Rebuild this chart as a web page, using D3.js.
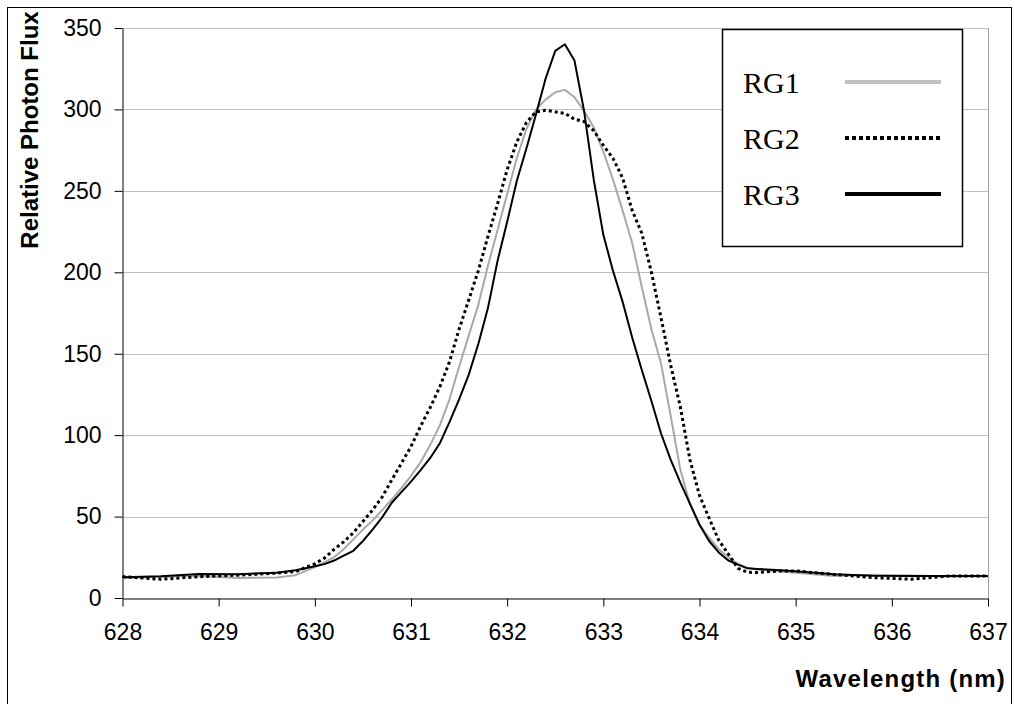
<!DOCTYPE html>
<html>
<head>
<meta charset="utf-8">
<script src="https://cdn.jsdelivr.net/npm/d3@7"></script>
<style>
  html, body { margin: 0; padding: 0; background: #ffffff; }
  #main-frame { width: 1015px; height: 704px; overflow: hidden; }
</style>
</head>
<body>
<div id="main-frame"></div>
<script>
const wavelength = [
  628.0, 628.4, 628.8, 629.2, 629.6, 629.8, 630.0, 630.1, 630.2, 630.3,
  630.4, 630.5, 630.6, 630.7, 630.8, 630.9, 631.0, 631.1, 631.2, 631.3,
  631.4, 631.5, 631.6, 631.7, 631.8, 631.9, 632.0, 632.1, 632.2, 632.3,
  632.4, 632.5, 632.6, 632.7, 632.8, 632.9, 633.0, 633.1, 633.2, 633.3,
  633.4, 633.5, 633.6, 633.7, 633.8, 633.9, 634.0, 634.1, 634.2, 634.3,
  634.4, 634.5, 634.6, 634.8, 635.0, 635.4, 635.8, 636.2, 636.6, 637.0
];

const rg1 = [
  12.1, 13.0, 13.5, 12.3, 12.6, 14.0, 19.0, 22.0, 25.0, 30.0,
  36.0, 42.0, 47.5, 54.0, 60.5, 67.5, 75.0, 83.5, 94.0, 106.0,
  122.0, 142.0, 161.0, 180.0, 204.0, 226.0, 248.0, 270.0, 288.0, 300.0,
  306.0, 310.5, 312.0, 307.5, 299.0, 289.0, 274.0, 257.0, 238.0, 218.0,
  191.0, 165.0, 144.0, 112.0, 79.0, 58.0, 45.0, 37.0, 30.0, 25.0,
  21.0, 18.5, 17.5, 16.5, 15.5, 13.5, 14.2, 13.8, 13.2, 13.3
];

const rg2 = [
  13.1, 11.5, 13.1, 14.0, 15.3, 16.2, 21.0, 24.5, 29.8, 34.5,
  40.0, 47.0, 54.0, 62.0, 72.5, 82.7, 93.0, 105.5, 117.0, 129.7,
  145.0, 165.0, 183.0, 201.0, 222.0, 242.0, 263.0, 280.0, 292.0, 298.5,
  299.5, 298.5, 297.6, 294.0, 292.5, 287.0, 278.0, 270.0, 258.0, 238.0,
  224.0, 200.0, 172.0, 143.0, 117.5, 85.0, 63.0, 49.0, 35.5, 27.0,
  18.2, 15.8, 15.6, 16.5, 16.6, 14.5, 12.5, 11.5, 13.5, 13.5
];

const rg3 = [
  12.7, 13.3, 14.7, 14.6, 15.5, 17.0, 19.5, 20.8, 23.0, 26.0,
  29.0, 35.0, 42.0, 49.5, 58.5, 65.0, 71.5, 78.5, 86.0, 95.0,
  108.0, 122.0, 137.0, 156.0, 178.0, 207.0, 231.0, 256.0, 276.0, 297.0,
  319.0, 336.0, 340.0, 330.0, 299.0, 257.0, 223.0, 201.0, 182.0, 160.0,
  140.0, 121.0, 101.0, 85.0, 71.0, 58.0, 45.0, 35.0, 28.0, 23.0,
  20.5, 18.2, 17.8, 17.2, 16.5, 14.6, 13.6, 13.5, 13.5, 13.5
];

const seriesNames = ["RG1", "RG2", "RG3"];
const xTicks = [628, 629, 630, 631, 632, 633, 634, 635, 636, 637];
const yTicks = [0, 50, 100, 150, 200, 250, 300, 350];

const styles = {
  RG1: { stroke: "#a8a8a8", legendStroke: "#c0c0c0", width: 2, dash: null, legendDash: null },
  RG2: { stroke: "#000000", legendStroke: "#000000", width: 3, dash: "3,3", legendDash: "4,3" },
  RG3: { stroke: "#000000", legendStroke: "#000000", width: 2, dash: null, legendDash: null },
};

const series = [rg1, rg2, rg3].map((values, i) => ({
  name: seriesNames[i],
  points: values.map((v, j) => [wavelength[j], v]),
}));

const svg = d3
  .select("#main-frame")
  .append("svg")
  .attr("width", 1015)
  .attr("height", 704);

svg
  .append("rect")
  .attr("x", 7.5)
  .attr("y", 7.5)
  .attr("width", 1004)
  .attr("height", 710)
  .attr("fill", "white")
  .attr("stroke", "black")
  .attr("stroke-width", 1);

const plotLeft = 122.5;
const plotRight = 988;
const plotTop = 28;
const plotBottom = 598;

const x = d3.scaleLinear().domain([628, 637]).range([plotLeft, plotRight]);
const y = d3.scaleLinear().domain([0, 350]).range([plotBottom, plotTop]);

// gridlines + plot frame
svg
  .append("g")
  .selectAll("line")
  .data(yTicks.filter((t) => t > 0))
  .enter()
  .append("line")
  .attr("x1", plotLeft)
  .attr("x2", plotRight)
  .attr("y1", (d) => Math.round(y(d)) + 0.5)
  .attr("y2", (d) => Math.round(y(d)) + 0.5)
  .attr("stroke", "#c0c0c0")
  .attr("stroke-width", 1);

svg
  .append("line")
  .attr("x1", plotRight + 0.5)
  .attr("x2", plotRight + 0.5)
  .attr("y1", plotTop)
  .attr("y2", plotBottom)
  .attr("stroke", "#a0a0a0")
  .attr("stroke-width", 1);

// axes
const xAxis = svg
  .append("g")
  .attr("transform", `translate(0, ${plotBottom + 0.5})`)
  .call(
    d3.axisBottom(x).tickValues(xTicks).tickSize(8).tickPadding(17).tickSizeOuter(0)
  );

const yAxis = svg
  .append("g")
  .attr("transform", `translate(${plotLeft}, 0)`)
  .call(
    d3.axisLeft(y).tickValues(yTicks).tickSize(8).tickPadding(13).tickSizeOuter(0)
  );

[xAxis, yAxis].forEach((ax) => {
  ax.selectAll("path, line").attr("stroke", "black").attr("stroke-width", 1);
  ax.selectAll("text")
    .attr("fill", "black")
    .style("font-family", "Arial, 'Liberation Sans', sans-serif")
    .style("font-size", "23px");
});

// lines
const line = d3
  .line()
  .x((d) => x(d[0]))
  .y((d) => y(d[1]));

svg
  .append("g")
  .selectAll("path")
  .data(series)
  .enter()
  .append("path")
  .attr("d", (d) => line(d.points))
  .attr("fill", "none")
  .attr("stroke", (d) => styles[d.name].stroke)
  .attr("stroke-width", (d) => styles[d.name].width)
  .attr("stroke-dasharray", (d) => styles[d.name].dash)
  .attr("stroke-linejoin", "round");

// axis titles
svg
  .append("text")
  .attr("transform", "translate(38, 130) rotate(-90)")
  .attr("text-anchor", "middle")
  .style("font-family", "Arial, 'Liberation Sans', sans-serif")
  .style("font-weight", "bold")
  .style("font-size", "24px")
  .text("Relative Photon Flux");

svg
  .append("text")
  .attr("x", 1006)
  .attr("y", 687)
  .attr("text-anchor", "end")
  .style("font-family", "Arial, 'Liberation Sans', sans-serif")
  .style("font-weight", "bold")
  .style("font-size", "24px")
  .style("letter-spacing", "1.2px")
  .text("Wavelength (nm)");

// legend
const legend = svg.append("g").attr("id", "legend");

legend
  .append("rect")
  .attr("x", 722.5)
  .attr("y", 29.5)
  .attr("width", 240)
  .attr("height", 217)
  .attr("fill", "white")
  .attr("stroke", "black")
  .attr("stroke-width", 1.5);

legend
  .selectAll("g")
  .data(seriesNames)
  .enter()
  .append("g")
  .attr("transform", (d, i) => `translate(0, ${i * 56})`)
  .each(function (d) {
    d3.select(this)
      .append("text")
      .attr("x", 743)
      .attr("y", 93)
      .style("font-family", "'Times New Roman', 'Liberation Serif', serif")
      .style("font-size", "30px")
      .text(d);

    d3.select(this)
      .append("line")
      .attr("x1", 845)
      .attr("x2", 941)
      .attr("y1", 82)
      .attr("y2", 82)
      .attr("stroke", styles[d].legendStroke)
      .attr("stroke-width", 4)
      .attr("stroke-dasharray", styles[d].legendDash);
  });
</script>
</body>
</html>
